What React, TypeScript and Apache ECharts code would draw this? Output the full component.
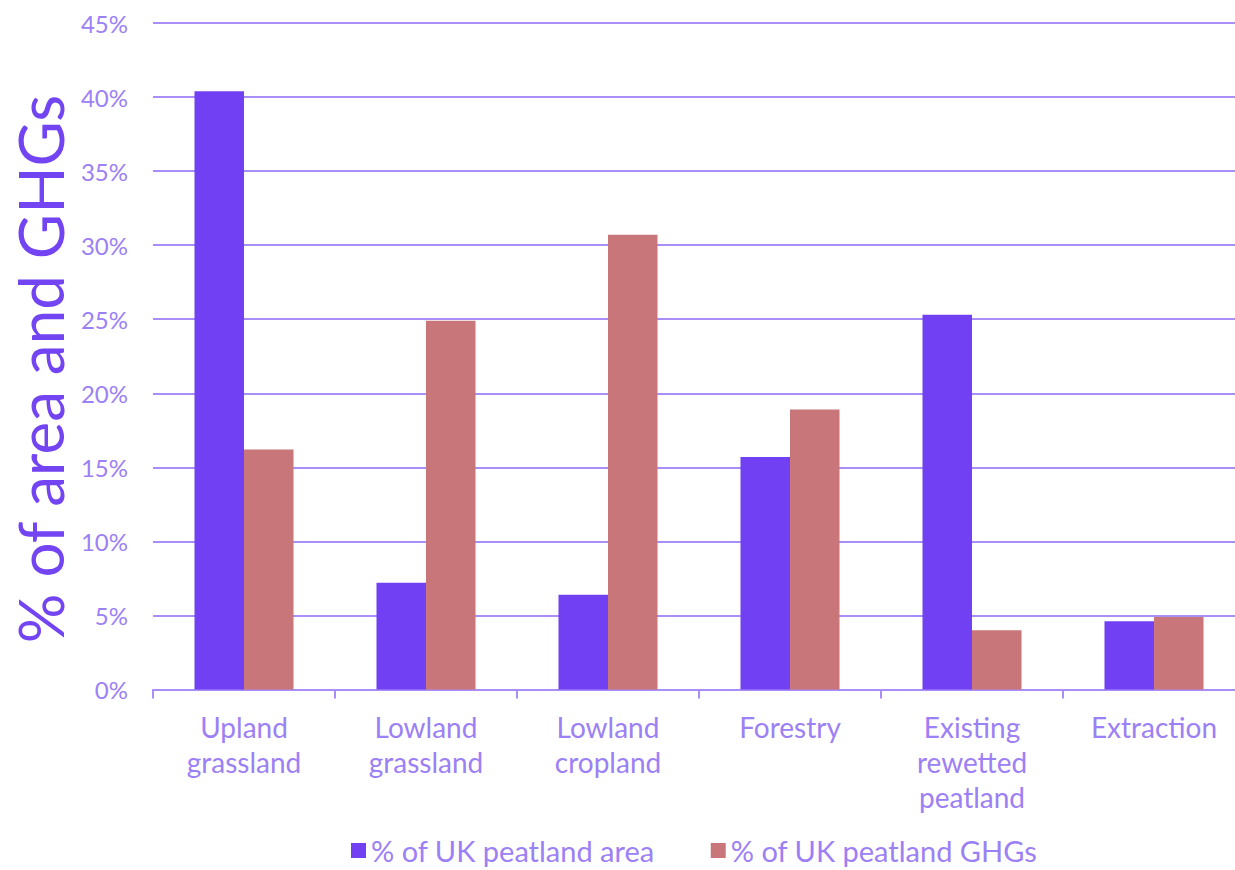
import React, { useEffect, useRef } from "react";
import * as echarts from "echarts";

const categories = [
  "Upland\ngrassland",
  "Lowland\ngrassland",
  "Lowland\ncropland",
  "Forestry",
  "Existing\nrewetted\npeatland",
  "Extraction",
];
const areaShare = [40.4, 7.2, 6.4, 15.7, 25.3, 4.6];
const ghgShare = [16.2, 24.9, 30.7, 18.9, 4.0, 4.9];
const seriesNames = ["% of UK peatland area", "% of UK peatland GHGs"];
const yAxisTitle = "% of area and GHGs";

const FONT = "Lato, 'DejaVu Sans', sans-serif";
const LABEL = "#9C80F5";

export default function App() {
  const ref = useRef<HTMLDivElement>(null);
  useEffect(() => {
    if (!ref.current) return;
    const chart = echarts.init(ref.current, undefined, { renderer: "svg" });
    chart.setOption({
      animation: false,
      backgroundColor: "#ffffff",
      grid: {
        left: 153,
        top: 23,
        width: 1092,
        height: 666.5,
        containLabel: false,
        outerBoundsMode: "none",
      },
      graphic: [
        {
          type: "text",
          x: 40,
          y: 369,
          rotation: Math.PI / 2,
          style: {
            text: yAxisTitle,
            fill: "#7344F2",
            fontSize: 62,
            fontFamily: FONT,
            align: "center",
            verticalAlign: "middle",
          },
        },
      ],
      legend: {
        top: 831,
        left: 346,
        icon: "rect",
        itemWidth: 15,
        itemHeight: 15,
        itemGap: 56,
        textStyle: { color: LABEL, fontSize: 29, fontFamily: FONT },
        data: seriesNames,
      },
      xAxis: {
        type: "category",
        data: categories,
        axisLine: { lineStyle: { color: "#A98EF8", width: 2 } },
        axisTick: { show: true, length: 9, lineStyle: { color: "#A98EF8", width: 2 } },
        axisLabel: {
          color: LABEL,
          fontSize: 28,
          fontFamily: FONT,
          lineHeight: 35,
          margin: 20,
          interval: 0,
        },
      },
      yAxis: {
        type: "value",
        min: 0,
        max: 45,
        interval: 5,
        axisLine: { show: false },
        axisTick: { show: false },
        axisLabel: {
          color: LABEL,
          fontSize: 24,
          fontFamily: FONT,
          margin: 25,
          formatter: "{value}%",
        },
        splitLine: { lineStyle: { color: "#A98EF8", width: 2 } },
      },
      series: [
        {
          name: seriesNames[0],
          type: "bar",
          data: areaShare,
          barGap: "0%",
          barCategoryGap: "45.6%",
          itemStyle: { color: "#7140F3" },
        },
        {
          name: seriesNames[1],
          type: "bar",
          data: ghgShare,
          barGap: "0%",
          barCategoryGap: "45.6%",
          itemStyle: { color: "#C8767A" },
        },
      ],
    });
    return () => chart.dispose();
  }, []);
  return (
    <div
      ref={ref}
      style={{ position: "fixed", left: 0, top: 0, width: 1235, height: 870 }}
    />
  );
}
